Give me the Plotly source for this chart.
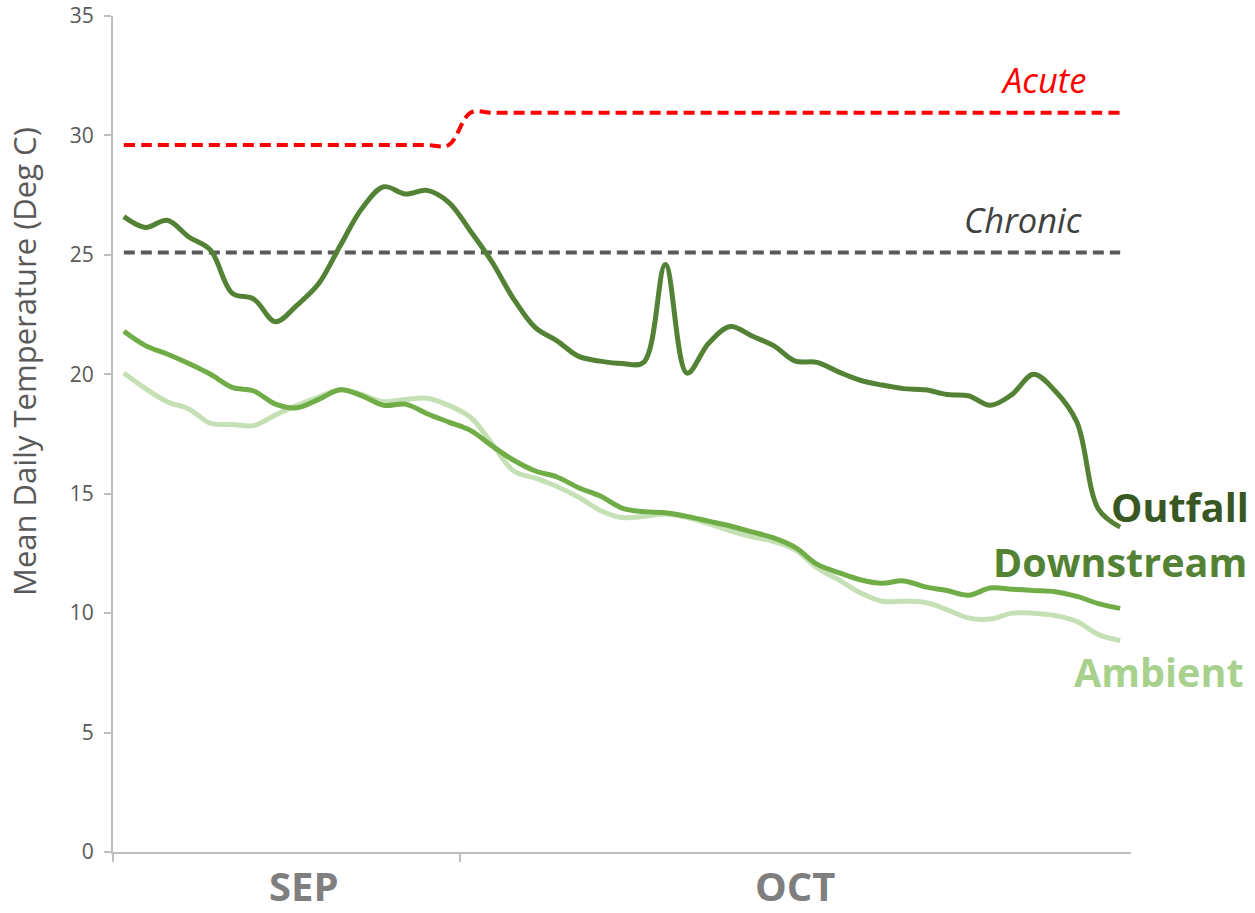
import plotly.graph_objects as go
import pandas as pd

# Daily dates: Sep 15 .. Oct 31
dates = pd.date_range("2019-09-15", "2019-10-31", freq="D")
day_index = list(range(len(dates)))

outfall = [26.6, 26.15, 26.45, 25.75, 25.2, 23.4, 23.15, 22.2, 22.9, 23.8,
           25.4, 26.95, 27.85, 27.55, 27.7, 27.2, 26.0, 24.7, 23.15, 21.95,
           21.4, 20.75, 20.55, 20.45, 20.5, 24.6, 20.05, 21.3, 22.0, 21.6,
           21.2, 20.55, 20.5, 20.1, 19.75, 19.55, 19.4, 19.35, 19.15, 19.1,
           18.7, 19.15, 20.0, 19.3, 18.0, 14.35, 13.6]
downstream = [21.8, 21.2, 20.85, 20.45, 20.0, 19.45, 19.3, 18.75, 18.6, 18.95,
              19.35, 19.1, 18.7, 18.75, 18.35, 18.0, 17.65, 17.0, 16.4, 15.95,
              15.7, 15.25, 14.9, 14.4, 14.25, 14.2, 14.05, 13.85, 13.65, 13.4,
              13.15, 12.75, 12.05, 11.7, 11.4, 11.25, 11.35, 11.1, 10.95, 10.75,
              11.05, 11.0, 10.95, 10.9, 10.7, 10.4, 10.2]
ambient = [20.05, 19.4, 18.85, 18.55, 17.95, 17.9, 17.85, 18.3, 18.7, 19.05,
           19.35, 19.15, 18.85, 18.95, 19.0, 18.7, 18.2, 17.1, 15.95, 15.65,
           15.3, 14.85, 14.3, 14.0, 14.05, 14.15, 14.0, 13.75, 13.45, 13.2,
           13.0, 12.65, 11.9, 11.4, 10.85, 10.5, 10.5, 10.45, 10.15, 9.8,
           9.75, 10.0, 10.0, 9.9, 9.65, 9.1, 8.85]
acute = [29.6] * 16 + [30.95] * 31
chronic = [25.1] * 47

month_labels = ["SEP", "OCT"]
month_label_pos = [8.34, 30.99]
month_boundaries = [-0.5, 15.5]
y_ticks = [0, 5, 10, 15, 20, 25, 30, 35]

FONT = "Open Sans"
fig = go.Figure()

dash = "11px,6px"
fig.add_trace(go.Scatter(x=day_index, y=acute, mode="lines",
                         line=dict(color="#FF0000", width=4, dash=dash, shape="spline", smoothing=1),
                         name="Acute", hoverinfo="skip"))
fig.add_trace(go.Scatter(x=day_index, y=chronic, mode="lines",
                         line=dict(color="#595959", width=4, dash=dash),
                         name="Chronic", hoverinfo="skip"))
fig.add_trace(go.Scatter(x=day_index, y=ambient, mode="lines",
                         line=dict(color="#C5E0B4", width=5, shape="spline", smoothing=1),
                         name="Ambient"))
fig.add_trace(go.Scatter(x=day_index, y=downstream, mode="lines",
                         line=dict(color="#70AD47", width=5, shape="spline", smoothing=1),
                         name="Downstream"))
fig.add_trace(go.Scatter(x=day_index, y=outfall, mode="lines",
                         line=dict(color="#548235", width=5, shape="spline", smoothing=1),
                         name="Outfall"))

annotations = []
def lab(text, x, y, color, size, bold=False, italic=False):
    t = text
    if bold:
        t = "<b>" + t + "</b>"
    if italic:
        t = "<i>" + t + "</i>"
    annotations.append(dict(text=t, x=x, y=y, xref="paper", yref="y",
                            xanchor="right", yanchor="middle", showarrow=False,
                            font=dict(family=FONT, size=size, color=color)))

# plot area: x 113..1131 (1018 px), y 16..852 (836 px)
lab("Acute", (1088 - 113) / 1018, 32.35, "#FF0000", 34.5, italic=True)
lab("Chronic", (1084 - 113) / 1018, 26.5, "#404040", 34.5, italic=True)
lab("Outfall", (1251 - 113) / 1018, 14.44, "#385723", 39.5, bold=True)
lab("Downstream", (1249 - 113) / 1018, 12.15, "#548235", 39.5, bold=True)
lab("Ambient", (1246 - 113) / 1018, 7.52, "#A9D18E", 39.5, bold=True)

for m, p in zip(month_labels, month_label_pos):
    annotations.append(dict(text="<b>" + m + "</b>", x=p, y=(852 - 885.5) / 836,
                            xref="x", yref="paper",
                            xanchor="center", yanchor="middle", showarrow=False,
                            font=dict(family=FONT, size=40, color="#7F7F7F")))

annotations.append(dict(text="Mean Daily Temperature (Deg C)",
                        x=(24 - 113) / 1018, y=(852 - 362) / 836,
                        xref="paper", yref="paper", textangle=-90,
                        xanchor="center", yanchor="middle", showarrow=False,
                        font=dict(family=FONT, size=31, color="#595959")))

fig.update_layout(
    template="none",
    width=1255, height=913,
    margin=dict(l=113, r=124, t=16, b=61, autoexpand=False),
    paper_bgcolor="white", plot_bgcolor="white",
    showlegend=False,
    annotations=annotations,
    xaxis=dict(range=[-0.5, 46.5], showgrid=False, zeroline=False, automargin=False,
               showline=True, linecolor="#BFBFBF", linewidth=2,
               tickvals=month_boundaries, ticks="outside", ticklen=8,
               tickcolor="#BFBFBF", tickwidth=2, showticklabels=False),
    yaxis=dict(range=[0, 35], showgrid=False, zeroline=False, automargin=False,
               showline=True, linecolor="#BFBFBF", linewidth=2,
               tickvals=y_ticks, ticks="outside", ticklen=7,
               tickcolor="#BFBFBF", tickwidth=2, ticklabelstandoff=6,
               tickfont=dict(family=FONT, size=21, color="#595959")),
)

fig.write_html("out.html", config={"displayModeBar": False},
               post_script="document.body.style.margin='0';document.body.style.overflow='hidden';")
